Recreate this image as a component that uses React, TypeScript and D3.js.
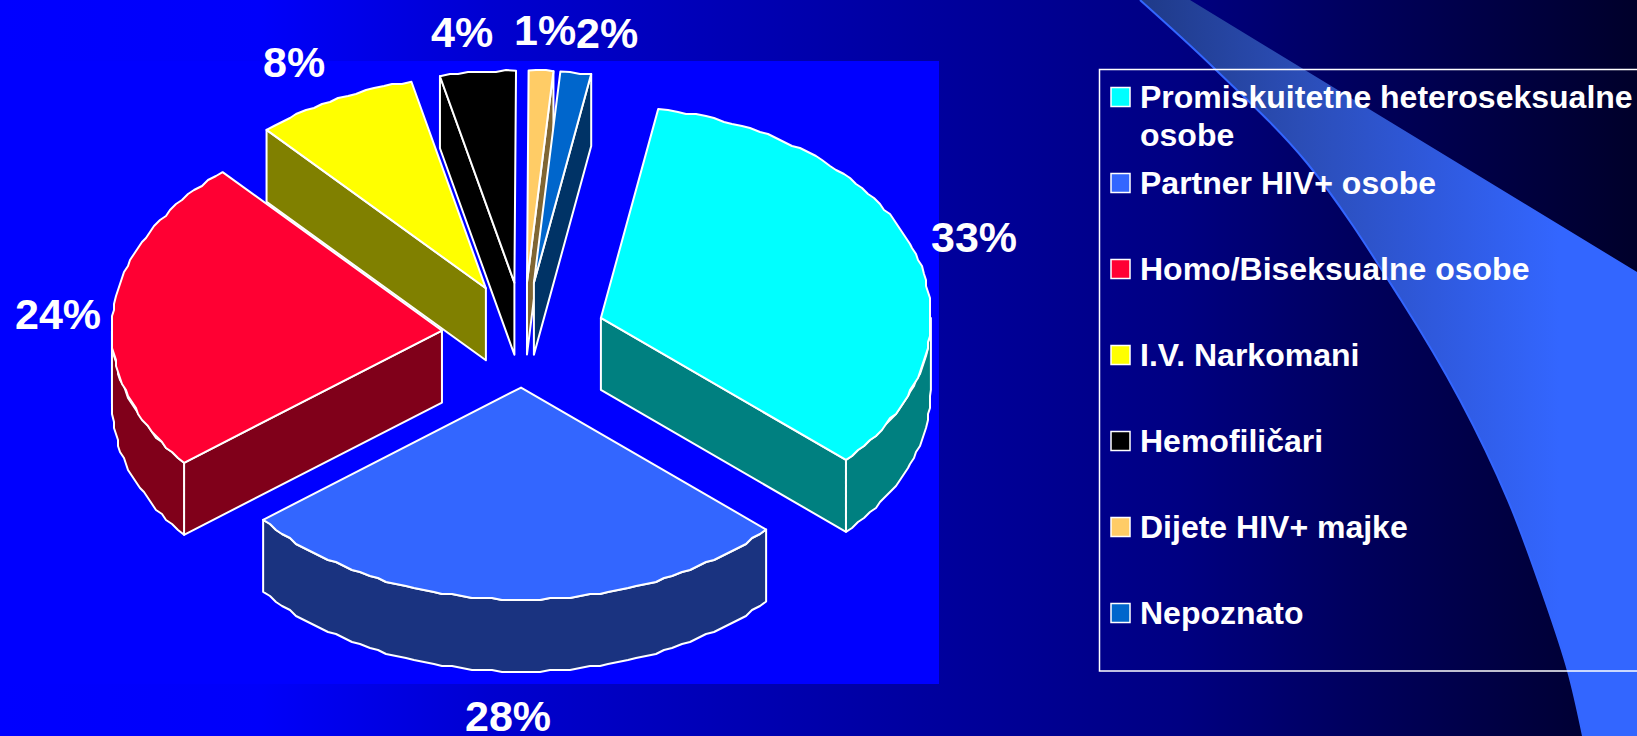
import * as d3 from "d3";

const WIDTH = 1637;
const HEIGHT = 736;

const categories = [
  "Promiskuitetne heteroseksualne osobe",
  "Partner HIV+ osobe",
  "Homo/Biseksualne osobe",
  "I.V. Narkomani",
  "Hemofiličari",
  "Dijete HIV+ majke",
  "Nepoznato",
];
// share of the circle as drawn
const shares = [33.9, 27.6, 24.15, 7.95, 3.7, 1.2, 1.5];
const pctLabels = ["33%", "28%", "24%", "8%", "4%", "1%", "2%"];
const colors = ["#00ffff", "#3366ff", "#ff0033", "#ffff00", "#000000", "#ffcc66", "#0066cc"];

// left / baseline of each percent label
const pctX = [931, 465, 15, 263, 431, 514, 576];
const pctY = [252, 731, 329, 77, 47, 45, 48];

const rad = (deg: number) => (deg * Math.PI) / 180;

const cx = 523.5;
const cy = 335;
const rx = 330;
const ry = 212;
const depth = 72;
const explode = 0.248;
const firstAngle = rad(10);

const px = d3.scaleLinear().domain([-1, 1]).range([cx - rx, cx + rx]);
const py = d3.scaleLinear().domain([-1, 1]).range([cy - ry, cy + ry]);
const line = d3.line();

const half = (c: string) => {
  const r = d3.rgb(c);
  return d3.rgb(r.r / 2, r.g / 2, r.b / 2).formatHex();
};
const snap = (v: number) => Math.round(v / 2) * 2;

type Pt = [number, number];

// rough polygon outline, the original renderer steps the rim like this too
function arcPoints(a0: number, a1: number, mid: number): Pt[] {
  const n = Math.max(1, Math.round((a1 - a0) / rad(1.7)));
  const out: Pt[] = [];
  for (let i = 0; i <= n; i++) {
    const t = a0 + ((a1 - a0) * i) / n;
    const x = px(Math.sin(t) + explode * Math.sin(mid));
    const y = py(-Math.cos(t) - explode * Math.cos(mid));
    out.push(i === 0 || i === n ? [x, y] : [snap(x), snap(y)]);
  }
  return out;
}

const drop = (pts: Pt[]): Pt[] => pts.map(([x, y]) => [x, y + depth]);

const arcs = d3
  .pie<number>()
  .sort(null)
  .startAngle(firstAngle)
  .endAngle(firstAngle + 2 * Math.PI)(shares);

const slices = arcs
  .map((a, i) => {
    const mid = (a.startAngle + a.endAngle) / 2;
    const apex: Pt = [
      px(explode * Math.sin(mid)),
      py(-explode * Math.cos(mid)),
    ];
    const rim = arcPoints(a.startAngle, a.endAngle, mid);
    const top = line([apex, ...rim]) + "Z";
    const sides: string[] = [];
    if (Math.sin(a.endAngle) > 0.01) {
      const e = rim[rim.length - 1];
      sides.push(line([apex, e, ...drop([e]), ...drop([apex])]) + "Z");
    }
    if (Math.sin(a.startAngle) < -0.01) {
      const s = rim[0];
      sides.push(line([apex, s, ...drop([s]), ...drop([apex])]) + "Z");
    }
    const r0 = Math.max(a.startAngle, Math.PI / 2);
    const r1 = Math.min(a.endAngle, (3 * Math.PI) / 2);
    if (r1 > r0) {
      const wall = arcPoints(r0, r1, mid);
      sides.push(line([...wall, ...drop(wall).reverse()]) + "Z");
    }
    return { i, mid, top, sides, color: colors[i] };
  })
  // back to front
  .sort((a, b) => Math.cos(b.mid) - Math.cos(a.mid));

const bgStops: [number, string][] = [
  [0, "#0000ff"],
  [0.16, "#0000fa"],
  [0.3, "#0000d0"],
  [0.6, "#000098"],
  [0.72, "#000082"],
  [0.82, "#000060"],
  [1, "#00002a"],
];
const swooshStops: [number, string][] = [
  [0, "#1f3a88"],
  [0.38, "#2b4db6"],
  [0.7, "#2f59dd"],
  [1, "#3366ff"],
];

const swooshEdge: Pt[] = [
  [1140, 0],
  [1215, 69],
  [1307, 163],
  [1401, 300],
  [1460, 400],
  [1508, 500],
  [1545, 600],
  [1568, 671],
  [1583, 736],
];
const swooshCurve = d3.line().curve(d3.curveCatmullRom.alpha(0.5));

const legendY = d3
  .scalePoint<number>()
  .domain(d3.range(categories.length))
  .range([97, 613]);

export default function App() {
  return (
    <>
      <style>{"body{margin:0;overflow:hidden}"}</style>
      <svg
        width={WIDTH}
        height={HEIGHT}
        style={{ display: "block" }}
        fontFamily="'Liberation Sans', Arial, sans-serif"
      >
        <defs>
          <linearGradient id="bg" x1="0" x2="1" y1="0" y2="0">
            {bgStops.map(([o, c]) => (
              <stop key={o} offset={o} stopColor={c} />
            ))}
          </linearGradient>
          <linearGradient
            id="swoosh"
            gradientUnits="userSpaceOnUse"
            x1={1140}
            x2={1560}
            y1={0}
            y2={0}
          >
            {swooshStops.map(([o, c]) => (
              <stop key={o} offset={o} stopColor={c} />
            ))}
          </linearGradient>
        </defs>
        <rect width={WIDTH} height={HEIGHT} fill="url(#bg)" />
        <path
          d={
            swooshCurve(swooshEdge) +
            `L${WIDTH},${HEIGHT}L${WIDTH},272L1190,0Z`
          }
          fill="url(#swoosh)"
        />
        <path d={swooshCurve(swooshEdge) ?? ""} fill="none" stroke="#3366ff" strokeWidth={2} />

        <rect x={0} y={61} width={939} height={623} fill="#0000ff" />

        <g stroke="#ffffff" strokeWidth={2} strokeLinejoin="round">
          {slices.map((s) => (
            <g key={s.i}>
              {s.sides.map((d, j) => (
                <path key={j} d={d} fill={half(s.color)} />
              ))}
              <path d={s.top} fill={s.color} />
            </g>
          ))}
        </g>

        <g fill="#ffffff" fontWeight="bold" fontSize={43}>
          {pctLabels.map((t, i) => (
            <text key={t} x={pctX[i]} y={pctY[i]}>
              {t}
            </text>
          ))}
        </g>

        <rect
          x={1099.5}
          y={69.5}
          width={WIDTH}
          height={601.5}
          fill="none"
          stroke="#ffffff"
          strokeWidth={1.5}
        />
        {categories.map((c, i) => {
          const y = legendY(i) ?? 0;
          const first = i === 0;
          return (
            <g key={c}>
              <rect
                x={1111}
                y={y - 9.5}
                width={19}
                height={19}
                fill={colors[i]}
                stroke="#ffffff"
                strokeWidth={1.5}
              />
              <text x={1140} y={y + 11} fill="#ffffff" fontWeight="bold" fontSize={32}>
                {first ? (
                  <>
                    <tspan>Promiskuitetne heteroseksualne</tspan>
                    <tspan x={1140} dy={38}>
                      osobe
                    </tspan>
                  </>
                ) : (
                  c
                )}
              </text>
            </g>
          );
        })}
      </svg>
    </>
  );
}
